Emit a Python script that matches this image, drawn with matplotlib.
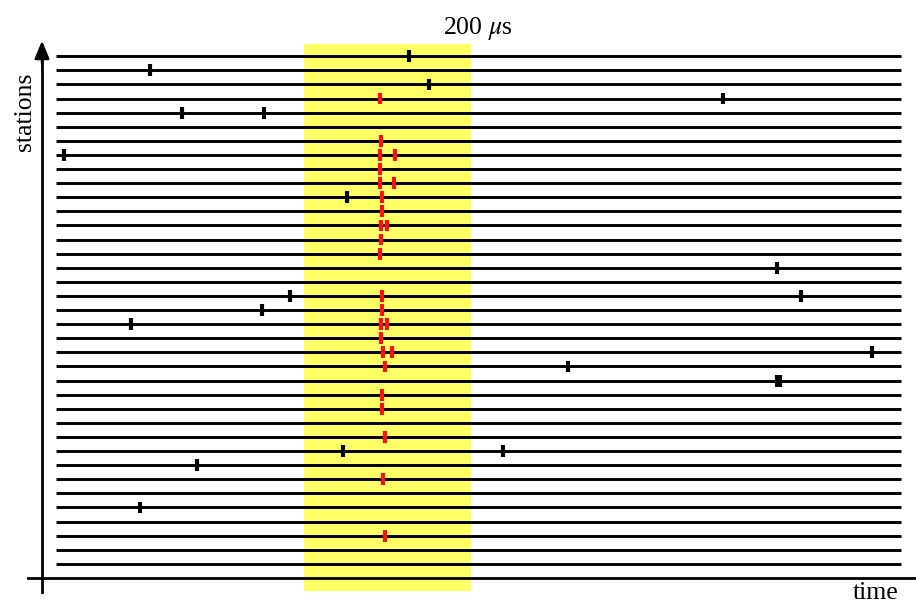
import matplotlib
matplotlib.use("Agg")
from matplotlib import pyplot as plt

plt.rcParams['font.family'] = ['Liberation Serif', 'DejaVu Serif']
plt.rcParams['mathtext.fontset'] = 'stix'

# stations numbered 1..37 from bottom, time in arbitrary units (0 = time axis)
n_stations = 37
t_start, t_end = 14, 859
window = (262, 429)          # the 200 us coincidence window

# background (uncorrelated) hits: time, station
black_t = [367, 108, 387, 681, 140, 222, 22, 305, 735, 248, 759, 220, 89,
           830, 526, 735, 738, 301, 461, 155, 98]
black_s = [37, 36, 35, 34, 33, 33, 30, 27, 22, 20, 20, 19, 18,
           16, 15, 14, 14, 9, 9, 8, 5]

# shower hits inside the window
red_t = [338, 339, 338, 353, 338, 338, 352, 340, 340, 339, 345, 339, 338,
         340, 340, 339, 345, 339, 341, 350, 343, 340, 340, 343, 341, 343]
red_s = [34, 31, 30, 30, 29, 28, 28, 27, 26, 25, 25, 24, 23,
         20, 19, 18, 18, 17, 16, 16, 15, 13, 12, 10, 7, 3]

fig = plt.figure(figsize=(9.16, 6.05), dpi=100)
ax = fig.add_axes([0, 0, 1, 1])
ax.set_xlim(-42, 874)
ax.set_ylim(-1.915, 40.99)
ax.axis('off')

# yellow window
ax.fill_between(list(window), -0.9, 37.87, color='#ffff66', lw=0, zorder=0)

# station lines
stations = list(range(1, n_stations + 1))
ax.hlines(stations, t_start, t_end, colors='k', lw=2.1, zorder=1)

# hits
h = 0.42
ax.vlines(black_t, [s - h for s in black_s], [s + h for s in black_s],
          colors='k', lw=3.0, zorder=3)
ax.vlines(red_t, [s - h for s in red_s], [s + h for s in red_s],
          colors='#ff1010', lw=3.0, zorder=3)

# axes with arrows
ax.plot([-14, 874], [0, 0], color='k', lw=2.0, zorder=2)
ax.plot([0, 0], [-1.0, 37.5], color='k', lw=2.0, zorder=2)
ax.annotate('', xy=(0, 38.1), xytext=(0, 36.5),
            arrowprops=dict(arrowstyle='-|>,head_length=0.6,head_width=0.25',
                            color='k', lw=1.8,
                            mutation_scale=18, shrinkA=0, shrinkB=0))

fig.text(25 / 916, 1 - 112 / 605, 'stations', rotation=90,
         ha='center', va='center', fontsize=18.5)
fig.text(876 / 916, 1 - 593 / 605, 'time', ha='center', va='center',
         fontsize=18.5)
fig.text(478 / 916, 1 - 28 / 605, r'200 $\mu$s', ha='center', va='center',
         fontsize=18.5)

fig.savefig('out.png', dpi=100)
